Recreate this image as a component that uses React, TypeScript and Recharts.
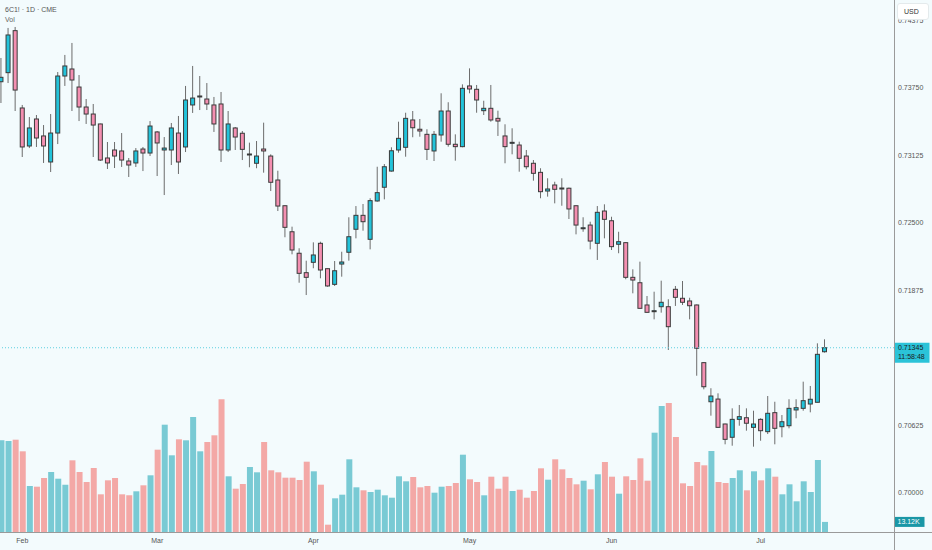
import { ComposedChart, Bar, XAxis, YAxis, ReferenceLine, Cell } from "recharts";

// daily candles, 6C1! (CME), Feb – Jul
const opens = [
  0.73808, 0.73892, 0.74281, 0.73565, 0.73213, 0.73463, 0.73306, 0.73065, 0.73333, 0.73861,
  0.73926, 0.73759, 0.73574, 0.73509, 0.73417, 0.73102, 0.73176, 0.73167, 0.73074, 0.73056,
  0.73185, 0.73148, 0.73343, 0.73176, 0.73176, 0.73333, 0.73204, 0.73593, 0.73671, 0.73648,
  0.73593, 0.73602, 0.73176, 0.7338, 0.73331, 0.73136, 0.73053, 0.73185, 0.7312, 0.72898,
  0.7266, 0.72419, 0.7222, 0.7204, 0.72136, 0.72312, 0.72077, 0.71932, 0.7212, 0.72229,
  0.72442, 0.72571, 0.72349, 0.72704, 0.72831, 0.72981, 0.73176, 0.73201, 0.73454, 0.73368,
  0.73321, 0.73167, 0.73315, 0.73537, 0.73229, 0.73207, 0.73769, 0.73738, 0.7354, 0.73562,
  0.73469, 0.73306, 0.73245, 0.73222, 0.7312, 0.73053, 0.72969, 0.72796, 0.72852, 0.72824,
  0.72822, 0.7266, 0.72454, 0.72481, 0.72312, 0.72611, 0.72521, 0.72303, 0.72318, 0.71997,
  0.71947, 0.71741, 0.71685, 0.71725, 0.71725, 0.71886, 0.71803, 0.71778, 0.71741, 0.71207,
  0.70845, 0.7087, 0.70639, 0.70516, 0.70682, 0.70697, 0.70608, 0.70682, 0.70568, 0.70744,
  0.70614, 0.70623, 0.70769, 0.70784, 0.70824, 0.7084, 0.71308,
];
const highs = [
  0.74028, 0.74306, 0.74315, 0.73593, 0.73481, 0.735, 0.73407, 0.73509, 0.73898, 0.74056,
  0.74167, 0.7387, 0.73648, 0.73602, 0.7342, 0.7325, 0.7325, 0.73333, 0.73102, 0.73194,
  0.73204, 0.73444, 0.73352, 0.73296, 0.73426, 0.73491, 0.73769, 0.73954, 0.73861, 0.73796,
  0.73667, 0.73713, 0.73537, 0.73389, 0.73352, 0.73244, 0.73259, 0.73429, 0.73136, 0.72984,
  0.72662, 0.72466, 0.72266, 0.72151, 0.72321, 0.72327, 0.7208, 0.72148, 0.72234, 0.72553,
  0.72657, 0.72676, 0.72729, 0.73021, 0.73046, 0.73201, 0.73438, 0.73521, 0.73537, 0.73463,
  0.73368, 0.73352, 0.73701, 0.73618, 0.73321, 0.73784, 0.73932, 0.73778, 0.73632, 0.73778,
  0.7354, 0.73414, 0.73377, 0.73253, 0.73176, 0.73083, 0.73007, 0.72914, 0.72882, 0.72914,
  0.72828, 0.72662, 0.72553, 0.72512, 0.72657, 0.72673, 0.72558, 0.72419, 0.72321, 0.72071,
  0.72142, 0.71824, 0.71864, 0.71966, 0.71794, 0.71917, 0.71963, 0.71808, 0.71745, 0.7121,
  0.7097, 0.70923, 0.70642, 0.70784, 0.70815, 0.70784, 0.70762, 0.70692, 0.70898, 0.70845,
  0.70722, 0.70868, 0.70868, 0.71031, 0.70991, 0.71386, 0.71423,
];
const lows = [
  0.73611, 0.73796, 0.73537, 0.73111, 0.73194, 0.73204, 0.73056, 0.72972, 0.73231, 0.73769,
  0.73537, 0.73444, 0.73417, 0.73111, 0.73074, 0.73, 0.73009, 0.73019, 0.72926, 0.73019,
  0.72981, 0.7312, 0.72935, 0.72759, 0.73037, 0.72954, 0.73157, 0.73519, 0.73546, 0.73546,
  0.73343, 0.73065, 0.73157, 0.73176, 0.73083, 0.73016, 0.73007, 0.72966, 0.72796, 0.72611,
  0.72368, 0.7221, 0.71947, 0.71833, 0.72081, 0.71988, 0.7191, 0.71917, 0.72003, 0.72151,
  0.72358, 0.72429, 0.72256, 0.72697, 0.72719, 0.72975, 0.73151, 0.73114, 0.73294, 0.73299,
  0.73083, 0.73074, 0.73253, 0.73207, 0.73077, 0.73201, 0.73701, 0.73521, 0.735, 0.73438,
  0.73306, 0.73053, 0.73136, 0.72975, 0.72997, 0.72892, 0.72729, 0.72744, 0.72682, 0.7266,
  0.72537, 0.72395, 0.72419, 0.72256, 0.72158, 0.72358, 0.7225, 0.7222, 0.71979, 0.71849,
  0.71708, 0.71671, 0.71608, 0.7167, 0.71324, 0.71732, 0.71741, 0.71608, 0.71086, 0.7096,
  0.70716, 0.70605, 0.70451, 0.70438, 0.70623, 0.70577, 0.70429, 0.70484, 0.70546, 0.70451,
  0.70516, 0.70599, 0.70692, 0.70762, 0.70747, 0.70838, 0.713,
];
const closes = [
  0.73849, 0.74241, 0.73731, 0.73204, 0.7338, 0.73287, 0.73213, 0.73333, 0.73861, 0.73954,
  0.73824, 0.73574, 0.73509, 0.73407, 0.73083, 0.73056, 0.7312, 0.73083, 0.73037, 0.73167,
  0.73148, 0.73398, 0.73241, 0.73194, 0.7338, 0.73065, 0.73639, 0.73657, 0.73676, 0.73602,
  0.73417, 0.73176, 0.73417, 0.73296, 0.73182, 0.73139, 0.7312, 0.73167, 0.72877, 0.72657,
  0.7246, 0.7225, 0.72034, 0.71997, 0.72204, 0.72065, 0.71917, 0.72058, 0.72139, 0.72373,
  0.72571, 0.72512, 0.72707, 0.72781, 0.73021, 0.73169, 0.73284, 0.73469, 0.73382, 0.73352,
  0.73182, 0.73321, 0.73537, 0.73229, 0.73207, 0.73747, 0.73741, 0.73639, 0.73562, 0.73454,
  0.73444, 0.73207, 0.73247, 0.73099, 0.73021, 0.7296, 0.7279, 0.72815, 0.72812, 0.7282,
  0.7263, 0.72481, 0.72456, 0.72333, 0.72599, 0.72534, 0.72281, 0.72327, 0.71997, 0.71972,
  0.7171, 0.71673, 0.71688, 0.71766, 0.7154, 0.71812, 0.71766, 0.71734, 0.7134, 0.70984,
  0.70898, 0.70608, 0.70497, 0.70682, 0.70707, 0.70646, 0.70639, 0.70577, 0.70738, 0.70599,
  0.7066, 0.70784, 0.7079, 0.70855, 0.70868, 0.71284, 0.71345,
];
// volume, thousands of contracts
const volumes = [
  119.2, 118.3, 120, 104.9, 59.8, 58.9, 70.2, 78, 69.3, 61.5,
  93.2, 78, 65, 83.2, 49, 67.2, 70.2, 49, 47.7, 52.9,
  60.7, 73.7, 107, 139.5, 99.7, 120.5, 119.2, 149.5, 104.9, 117,
  125.7, 172.5, 72.4, 56.3, 62.4, 84.5, 77.6, 117, 80.2, 77.6,
  70.6, 70.6, 67.6, 91.4, 78.9, 61.5, 9.5, 43.8, 48.5, 94.5,
  58.1, 54.2, 52, 55, 47.7, 44.6, 72.4, 65.9, 71.5, 58.1,
  59.8, 51.1, 58.9, 59.8, 63.7, 100.5, 68.5, 65, 47.7, 71.9,
  56.3, 71.9, 53.3, 55, 44.6, 53.3, 82.8, 68, 94.5, 81.5,
  70.2, 62, 66.7, 55.5, 75, 91, 71.9, 49.8, 72.4, 67.6,
  95.8, 66.7, 129.1, 163.8, 167.7, 123.5, 63.3, 59.8, 91, 86.7,
  105.3, 65, 63.7, 70.2, 80.2, 54.2, 78.9, 67.2, 82.8, 71.9,
  49, 62, 39.9, 65.9, 52, 93.6, 13.12,
];

const months = ["Feb", "Mar", "Apr", "May", "Jun", "Jul"];
const monthStarts = [3, 22, 44, 66, 86, 107];
const priceTicks = [0.7, 0.70625, 0.71875, 0.725, 0.73125, 0.7375, 0.74375];
const countdown = "11:58:48";

const SLOTS = 126; // empty sessions on the right
const UP = "#22C3DA";
const DOWN = "#F48FB1";
const VOL_UP = "#79CAD4";
const VOL_DOWN = "#F3A8A6";
const BG = "#F3FBFD";

const data = Array.from({ length: SLOTS }, (_, i) => {
  const m = monthStarts.indexOf(i);
  const label = m >= 0 ? months[m] : "";
  if (i >= opens.length) return { idx: i, label };
  return {
    idx: i,
    label,
    open: opens[i],
    high: highs[i],
    low: lows[i],
    close: closes[i],
    range: [lows[i], highs[i]],
    vol: volumes[i],
  };
});

const lastClose = closes[closes.length - 1];
const lastVol = volumes[volumes.length - 1];

const Candle = (props: any) => {
  const { x, y, width, height, payload } = props;
  if (!payload || payload.open == null) return null;
  const top = Math.min(y, y + height);
  const h = Math.abs(height);
  const span = payload.high - payload.low || 1e-9;
  const py = (v: number) => top + ((payload.high - v) / span) * h;
  const cx = x + width / 2;
  const up = payload.close >= payload.open;
  const bTop = py(Math.max(payload.open, payload.close));
  const bBot = py(Math.min(payload.open, payload.close));
  return (
    <g>
      <line x1={cx} x2={cx} y1={top} y2={top + h} stroke="#6c6c6c" strokeWidth={1} />
      <rect
        x={x + 0.5}
        y={bTop}
        width={width - 1}
        height={Math.max(bBot - bTop, 1)}
        fill={up ? UP : DOWN}
        stroke="#3a3a3a"
        strokeWidth={1}
      />
    </g>
  );
};

const PriceTag = (props: any) => {
  const yy = props.viewBox ? props.viewBox.y : 0;
  return (
    <g>
      <rect x={894.5} y={yy - 5} width={35} height={20} fill="#2BC3D8" />
      <text x={898} y={yy + 2.6} fontSize={7} fill="#1c1c1c">
        {lastClose.toFixed(5)}
      </text>
      <text x={898} y={yy + 11.4} fontSize={7} fill="#1c1c1c">
        {countdown}
      </text>
    </g>
  );
};

const VolTag = (props: any) => {
  const yy = props.viewBox ? props.viewBox.y : 0;
  return (
    <g>
      <rect x={894.5} y={yy - 5} width={30} height={10} fill="#1A97A6" />
      <text x={897.5} y={yy + 2.5} fontSize={7} fill="#ffffff">
        {lastVol.toFixed(2)}K
      </text>
    </g>
  );
};

export default function App() {
  return (
    <div
      style={{
        position: "fixed",
        left: 0,
        top: 0,
        width: 932,
        height: 550,
        background: BG,
        fontFamily: "'Liberation Sans', Arial, sans-serif",
        overflow: "hidden",
      }}
    >
      <ComposedChart width={932} height={550} data={data} margin={{ top: 0, right: 0, bottom: 0, left: -2.55 }}>
        <XAxis
          xAxisId="p"
          dataKey="idx"
          interval={0}
          tickFormatter={(v: number) => data[v]?.label ?? ""}
          tick={{ fontSize: 7, fill: "#555" }}
          tickLine={false}
          tickSize={6}
          tickMargin={0}
          axisLine={false}
          height={18}
          padding={{ left: 0, right: 2 }}
        />
        <XAxis xAxisId="v" dataKey="idx" hide padding={{ left: 0, right: 2 }} />
        <YAxis
          yAxisId="price"
          orientation="right"
          width={38}
          domain={[0.69639, 0.745648]}
          allowDataOverflow
          ticks={priceTicks}
          tickFormatter={(v: number) => v.toFixed(5)}
          tick={{ fontSize: 7, fill: "#555", textAnchor: "start" }}
          tickLine={false}
          tickSize={4}
          tickMargin={0}
          axisLine={false}
        />
        <YAxis yAxisId="vol" hide domain={[0, 691.6]} allowDataOverflow />
        <Bar xAxisId="v" yAxisId="vol" dataKey="vol" barSize={6} isAnimationActive={false}>
          {data.map((d: any, i) => (
            <Cell key={`v-${i}`} fill={d.open == null ? "none" : d.close >= d.open ? VOL_UP : VOL_DOWN} />
          ))}
        </Bar>
        <Bar
          xAxisId="p"
          yAxisId="price"
          dataKey="range"
          barSize={5}
          isAnimationActive={false}
          shape={(p: any) => <Candle {...p} />}
        />
        <ReferenceLine
          xAxisId="p"
          yAxisId="price"
          y={lastClose}
          stroke="#5FD0E0"
          strokeDasharray="1 2"
          label={(p: any) => <PriceTag {...p} />}
        />
        <ReferenceLine
          xAxisId="v"
          yAxisId="vol"
          y={lastVol}
          stroke="none"
          label={(p: any) => <VolTag {...p} />}
        />
      </ComposedChart>
      <div style={{ position: "absolute", left: 894, top: 0, width: 1, height: 550, background: "#9a9a9a" }} />
      <div style={{ position: "absolute", left: 0, top: 531.5, width: 932, height: 1, background: "#9a9a9a" }} />
      <div style={{ position: "absolute", left: 5, top: 6, fontSize: 7, color: "#555", lineHeight: "8px" }}>
        6C1! · 1D · CME
      </div>
      <div style={{ position: "absolute", left: 5, top: 16, fontSize: 7, color: "#666", lineHeight: "8px" }}>Vol</div>
      <div
        style={{
          position: "absolute",
          left: 897,
          top: 3,
          width: 32,
          height: 17,
          background: "#ffffff",
          border: "1px solid #e4eaec",
          borderRadius: 3,
          boxSizing: "border-box",
          fontSize: 7,
          color: "#333",
          lineHeight: "15px",
          paddingLeft: 6,
        }}
      >
        USD
      </div>
    </div>
  );
}
